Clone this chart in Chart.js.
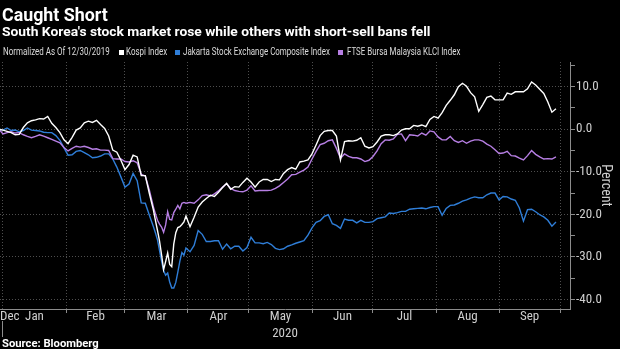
<!DOCTYPE html>
<html><head><meta charset="utf-8">
<script src="https://cdn.jsdelivr.net/npm/chart.js@4.4.1/dist/chart.umd.min.js"></script>
<style>
html,body{margin:0;padding:0;background:#000;width:620px;height:349px;overflow:hidden;}
#wrap{position:relative;width:620px;height:349px;background:#000;}
canvas{position:absolute;left:0;top:0;}
.t{position:absolute;white-space:nowrap;transform-origin:0 50%;line-height:1;font-family:Roboto,"Liberation Sans",sans-serif;}
.sq{position:absolute;width:5px;height:5px;}
</style></head><body>
<div id="wrap">
<canvas id="c" width="620" height="349"></canvas>
<div class="t" id="title" style="font-size:19px;font-weight:700;color:#fff;">Caught Short</div>
<div class="t" id="sub" style="font-size:13px;font-weight:700;color:#fff;">South Korea's stock market rose while others with short-sell bans fell</div>
<div class="t" id="note" style="font-size:10.5px;color:#dcdcdc;">Normalized As Of 12/30/2019</div>
<div class="sq" id="sq1"></div><div class="t" id="lg1" style="font-size:10.5px;color:#dcdcdc;"></div>
<div class="sq" id="sq2"></div><div class="t" id="lg2" style="font-size:10.5px;color:#dcdcdc;"></div>
<div class="sq" id="sq3"></div><div class="t" id="lg3" style="font-size:10.5px;color:#dcdcdc;"></div>
<div class="t" id="src" style="font-size:11px;font-weight:700;color:#fff;">Source: Bloomberg</div>
</div>
<script>
// ---- data (days since 12/30/2019) ----
const days = [0,2,4,6,8,10,12,14,16,18,20,22,24,26,28,30,32,34,36,38,40,42,44,46,48,50,52,54,56,58,60,62,64,66,68,70,72,74,
76,77,78,79,80,81,82,83,84,85,86,87,88,89,90,91,92,
94,96,98,100,102,104,106,108,110,112,114,116,118,120,122,124,126,128,130,132,134,136,138,140,142,144,146,148,150,152,
154,156,158,160,162,164,166,168,170,172,174,176,178,180,182,184,186,188,190,192,194,196,198,200,202,204,206,208,210,212,
214,216,218,220,222,224,226,228,230,232,234,236,238,240,242,244,246,248,250,252,254,256,258,260,262,264,266,268,270,272,274];

const kospi = [0,-0.2,-0.5,-0.8,-1.3,-1.2,0.4,1.5,2.0,2.2,2.5,2.4,3.0,1.4,0.4,-0.8,-2.5,-3.4,-1.9,-0.2,0.3,1.5,1.9,1.6,2.1,1.1,0.2,-1.6,-4.9,-5.4,-7.3,-9.5,-8.3,-6.1,-6.5,-10.9,-10.9,-15.1,
-19.0,-21.5,-23.8,-26.3,-29.5,-33.0,-31.1,-29.1,-31.8,-32.3,-27.0,-24.3,-23.1,-22.9,-22.4,-21.8,-20.4,
-22.9,-20.7,-18.3,-17.1,-16.3,-15.5,-15.8,-14.8,-13.7,-12.7,-14.1,-13.5,-13.6,-12.5,-11.5,-12.4,-13.6,-12.4,-11.8,-11.8,
-12.3,-11.8,-11.9,-10.4,-9.5,-9.0,-9.4,-7.7,-7.5,-7.2,-5.8,-3.7,-1.5,-0.5,-0.3,-0.3,-1.6,-7.2,-2.9,-2.7,
-2.8,-2.6,-2.0,-4.0,-4.4,-4.1,-3.0,-1.6,-1.3,-1.3,-1.5,-1.1,-0.2,0.1,0.1,0.9,0.7,1.0,0.6,2.3,
3.0,2.6,3.9,5.6,6.8,8.1,10.0,10.8,10.1,8.6,7.6,4.2,5.8,7.5,7.8,6.9,6.9,6.9,8.5,8.2,
8.8,8.8,8.8,9.5,11.1,10.4,9.4,8.4,6.4,4.0,4.8];

const jakarta = [0,-0.2,0.3,-0.3,-0.2,-0.6,-0.3,0.3,-0.2,-0.3,-0.4,-0.7,-0.8,-0.8,-1.5,-2.6,-4.4,-6.1,-6.0,-5.2,-5.0,-5.5,-6.0,-6.7,-6.6,-6.3,-5.8,-5.8,-7.0,-8.9,-11.2,-13.6,-12.9,-10.4,-12.1,-17.3,-17.4,-20.2,
-22.9,-24.4,-26.0,-28.5,-31.0,-33.2,-34.3,-33.8,-35.9,-37.3,-37.3,-36.0,-33.6,-31.0,-29.0,-29.6,-27.9,
-28.8,-27.3,-23.8,-24.7,-26.4,-26.4,-26.2,-26.2,-28.2,-27.0,-28.1,-27.5,-27.5,-28.6,-27.8,-25.4,-26.7,-26.7,-26.9,-26.6,
-27.1,-28.0,-28.3,-28.1,-27.5,-27.2,-26.8,-26.5,-26.2,-24.9,-23.2,-21.9,-21.5,-20.5,-20.1,-22.2,-22.6,-23.3,-21.1,-21.4,
-21.4,-22.0,-21.4,-21.9,-21.9,-21.7,-21.0,-20.8,-20.6,-19.7,-19.8,-19.6,-19.3,-19.3,-18.8,-18.7,-18.6,-18.5,-18.7,-18.4,
-18.2,-18.2,-20.2,-18.6,-17.9,-17.8,-17.4,-16.9,-16.6,-16.2,-15.9,-16.1,-16.1,-15.4,-15.0,-15.0,-16.6,-15.8,-15.9,-16.4,
-16.7,-18.5,-21.6,-18.9,-18.8,-19.4,-20.1,-20.6,-21.4,-22.8,-21.8];

const klci = [0,-1.1,-0.8,-0.6,-0.9,-0.8,-1.3,-1.7,-2.0,-1.7,-1.3,-1.6,-2.0,-2.4,-2.8,-3.2,-4.3,-5.1,-4.5,-4.0,-4.2,-4.0,-4.3,-4.7,-4.6,-4.9,-4.9,-5.0,-6.9,-7.0,-7.0,-7.6,-7.7,-7.4,-7.9,-10.6,-11.0,-14.3,
-18.3,-19.9,-21.4,-22.3,-23.0,-24.2,-22.5,-19.4,-21.2,-21.3,-19.6,-18.8,-17.9,-18.7,-17.4,-17.2,-17.4,
-17.2,-17.4,-16.6,-15.6,-15.4,-15.7,-15.2,-14.5,-13.6,-12.8,-13.9,-14.4,-14.6,-14.7,-14.3,-13.3,-14.5,-14.4,-14.4,-14.4,
-14.3,-13.9,-13.3,-12.5,-11.7,-10.7,-10.6,-10.1,-9.6,-8.9,-7.0,-5.2,-3.6,-3.3,-2.7,-2.5,-4.5,-6.8,-5.8,-6.4,
-6.7,-6.7,-7.0,-7.6,-7.3,-6.4,-5.1,-3.4,-2.5,-2.6,-2.3,-1.2,-1.1,-2.7,-1.3,-1.4,-1.6,-0.9,-1.4,-0.4,
-0.6,-1.8,-2.5,-2.5,-1.7,-2.7,-3.1,-2.7,-3.3,-2.8,-2.5,-2.5,-2.8,-3.5,-4.0,-4.8,-5.7,-5.6,-5.2,-6.2,
-6.3,-6.8,-7.2,-6.2,-5.0,-5.9,-6.5,-7.0,-6.9,-7.0,-6.5];

const seriesNames = ['Kospi Index','Jakarta Stock Exchange Composite Index','FTSE Bursa Malaysia KLCI Index'];
const monthNames = ['Dec','Jan','Feb','Mar','Apr','May','Jun','Jul','Aug','Sep'];
const monthStarts = [2,33,62,93,123,154,184,215,246,276]; // Jan 1 ... Oct 1, in days since 12/30/2019
const yearLabel = '2020';
const yTickValues = [-40,-35,-30,-25,-20,-15,-10,-5,0,5,10,15];

// ---- styling ----
const COLORS = ['#ffffff','#2f7ed8','#b77fe4'];
const GRID = '#4e4e4e';
const AXIS = '#8c8c8c';
const TXT = '#cfcfcf';
const TF = "'Liberation Sans Narrow','Roboto Condensed',Roboto,sans-serif";
const X_MIN = 0.53, X_MAX = 280.9, Y_MIN = -42.25, Y_MAX = 15.8;

// ---- header / legend text ----
['lg1','lg2','lg3'].forEach((id,i)=>{document.getElementById(id).textContent = seriesNames[i];});
['sq1','sq2','sq3'].forEach((id,i)=>{document.getElementById(id).style.background = COLORS[i];});
function place(id,left,cy,width){
  const el=document.getElementById(id);
  const w=el.offsetWidth,h=el.offsetHeight;
  el.style.left=left+'px'; el.style.top=(cy-h/2)+'px';
  if(width) el.style.transform='scaleX('+(width/w)+')';
}
place('title',2,14.5,106);
place('sub',2,31.5,428);
place('note',3,52.5,107);
place('lg1',126,52.5,41);
place('lg2',183,52.5,147);
place('lg3',347,52.5,113);
place('src',2,343.5,97);
[['sq1',119],['sq2',175],['sq3',338]].forEach(([id,x])=>{const e=document.getElementById(id);e.style.left=x+'px';e.style.top='50px';});

// ---- x ticks: month boundaries (grid) + mid-month labels ----
const xTickDefs=[{value:X_MIN,label:monthNames[0],kind:'label'}];
monthStarts.forEach(v=>xTickDefs.push({value:v,label:'',kind:'grid'}));
for(let i=0;i<monthStarts.length-1;i++) xTickDefs.push({value:(monthStarts[i]+monthStarts[i+1])/2,label:monthNames[i+1],kind:'label'});
xTickDefs.push({value:X_MAX,label:'',kind:'end'});
xTickDefs.sort((a,b)=>a.value-b.value);
const kindAt=i=>(xTickDefs[i]||{}).kind;

const mk=(arr)=>days.map((d,i)=>({x:d,y:arr[i]}));
new Chart(document.getElementById('c'),{
  type:'line',
  data:{datasets:[
    {label:seriesNames[0],data:mk(kospi),borderColor:COLORS[0],borderWidth:1.4,pointRadius:0,tension:0},
    {label:seriesNames[2],data:mk(klci),borderColor:COLORS[2],borderWidth:1.4,pointRadius:0,tension:0},
    {label:seriesNames[1],data:mk(jakarta),borderColor:COLORS[1],borderWidth:1.4,pointRadius:0,tension:0}
  ]},
  options:{
    responsive:false,animation:false,
    layout:{padding:{top:62,left:0,right:0,bottom:0}},
    plugins:{legend:{display:false},tooltip:{enabled:false},title:{display:false}},
    scales:{
      x:{type:'linear',position:'bottom',min:X_MIN,max:X_MAX,
        afterBuildTicks:s=>{s.ticks=xTickDefs.map(t=>({value:t.value}));},
        afterFit:s=>{s.height=40;},
        ticks:{autoSkip:false,maxRotation:0,minRotation:0,align:'inner',padding:-28,color:TXT,
          font:{family:TF,size:13},callback:(v,i)=>xTickDefs[i]?xTickDefs[i].label:''},
        grid:{drawOnChartArea:true,drawTicks:true,tickLength:28,lineWidth:1,tickWidth:1,
          color:c=>kindAt(c.index)==='grid'?GRID:'transparent',
          tickColor:c=>kindAt(c.index)==='grid'?AXIS:'transparent',
          tickBorderDash:c=>(xTickDefs[c.index]&&xTickDefs[c.index].value===monthStarts[0])?[0,11,17,100]:[3,100]},
        border:{display:true,color:AXIS,width:1,dash:[1,2]},
        title:{display:true,text:yearLabel,color:TXT,font:{family:TF,size:13},padding:{top:0,bottom:7}}
      },
      y:{type:'linear',position:'right',min:Y_MIN,max:Y_MAX,
        afterBuildTicks:s=>{s.ticks=yTickValues.map(v=>({value:v}));},
        afterFit:s=>{s.width=50;},
        ticks:{autoSkip:false,padding:1,color:TXT,font:{family:TF,size:13},
          callback:v=>(v%10===0)?v.toFixed(1):''},
        grid:{drawTicks:true,tickLength:5,lineWidth:1,
          color:c=>(c.tick&&c.tick.value%10===0)?GRID:'transparent',tickColor:AXIS},
        border:{display:true,color:AXIS,width:1,dash:[1,2]},
        title:{display:true,text:'Percent',color:TXT,font:{family:TF,size:14},padding:{top:6,bottom:0}}
      }
    }
  }
});
</script>
</body></html>
